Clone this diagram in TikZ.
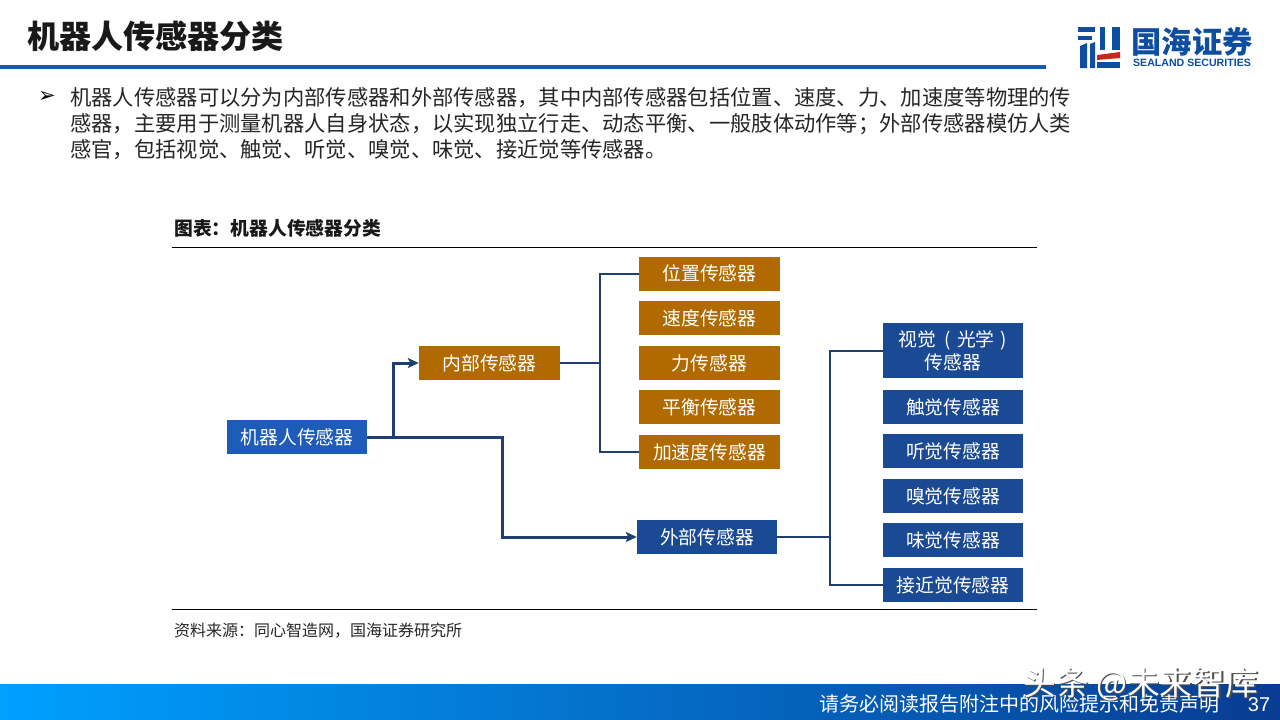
\documentclass[tikz,border=0pt]{standalone}
\usepackage{fontspec}
\setmainfont{Noto Sans CJK SC}
\newfontfamily\latinf{Liberation Sans}
\usetikzlibrary{arrows.meta}
\definecolor{brownbox}{HTML}{B06A00}
\definecolor{bluebox}{HTML}{1B4A94}
\definecolor{rootbox}{HTML}{1F5BB8}
\definecolor{conn}{HTML}{1F3F73}
\definecolor{rulec}{HTML}{0F5CB5}
\definecolor{logoblue}{HTML}{0D4EA0}
\definecolor{logored}{HTML}{C8281E}
\definecolor{footl}{HTML}{00A0FF}
\definecolor{footm}{HTML}{0062DC}
\definecolor{footr}{HTML}{083C92}
\tikzset{
  x=1pt,y=-1pt,
  box/.style={minimum width=#1,minimum height=34pt,inner sep=0pt,align=center,text=white,font=\fontsize{18.8}{23}\selectfont},
  box/.default=140pt,
  brownb/.style={box=141pt,fill=brownbox,text=white},
  blueb/.style={box=140pt,fill=bluebox},
  thick conn/.style={draw=conn,line width=3pt},
  thin conn/.style={draw=conn,line width=2pt},
  tipped/.style={-{Stealth[length=11pt,width=10pt,inset=2.5pt]}},
  body/.style={anchor=west,inner sep=0pt,text=black!85,font=\fontsize{21.3}{25}\selectfont},
  logo/.style={fill=logoblue},
}
\begin{document}
\begin{tikzpicture}
\useasboundingbox (0,0) rectangle (1280,720);
\fill[white] (0,0) rectangle (1280,720);
% header
\node[anchor=west,inner sep=0pt,font=\fontsize{32.1}{38}\selectfont\bfseries,text=black!90] (title) at (27,36) {机器人传感器分类};
\fill[rulec] (0,64.5) rectangle (1046,68.5);
% logo mark
\fill[logo] (1078,27) rectangle (1095,32);
\fill[logo] (1078,36) rectangle (1092,40);
\fill[logo] (1080,46) -- (1087,43) -- (1087,68) -- (1080,68) -- cycle;
\fill[logo] (1090,44) -- (1095,42) -- (1095,68) -- (1090,68) -- cycle;
\fill[logo] (1100,27) rectangle (1105,50);
\fill[logo] (1112,27) rectangle (1120,50);
\fill[logored] (1097,55) -- (1120,52) -- (1120,58) -- (1097,60) -- cycle;
\fill[logo] (1097,62) rectangle (1120,68);
\node[inner sep=0pt,font=\fontsize{30.3}{31}\selectfont\bfseries,text=logoblue] (logocn) at (1192,42) {国海证券};
\node[inner sep=0pt,font=\latinf\fontsize{10.6}{12}\selectfont\bfseries,text=logoblue] (logoen) at (1192,63) {SEALAND SECURITIES};
% bullet
\node[inner sep=0pt,font=\fontspec{DejaVu Sans}\fontsize{21}{21}\selectfont,text=black] (bullet) at (47,97) {➢};
\node[body] (l1) at (70,98) {机器人传感器可以分为内部传感器和外部传感器，其中内部传感器包括位置、速度、力、加速度等物理的传};
\node[body] (l2) at (70,124) {感器，主要用于测量机器人自身状态，以实现独立行走、动态平衡、一般肢体动作等；外部传感器模仿人类};
\node[body] (l3) at (70,150) {感官，包括视觉、触觉、听觉、嗅觉、味觉、接近觉等传感器。};
% figure title
\node[anchor=west,inner sep=0pt,font=\fontsize{18.8}{22}\selectfont\bfseries,text=black!90] (figt) at (174,228) {图表：机器人传感器分类};
\draw[black,line width=1pt] (172,247.5) -- (1037,247.5);
\draw[black,line width=1pt] (172,609.5) -- (1037,609.5);
\node[anchor=west,inner sep=0pt,font=\fontsize{16}{19}\selectfont,text=black!85] (src) at (174,631) {资料来源：同心智造网，国海证券研究所};
% boxes
\node[box=140pt,fill=rootbox] (root) at (297,437) {机器人传感器};
\node[brownb] (inner) at (489.5,363) {内部传感器};
\node[blueb] (outer) at (707,537) {外部传感器};
\node[brownb] (b1) at (709.5,273.5) {位置传感器};
\node[brownb] (b2) at (709.5,318) {速度传感器};
\node[brownb] (b3) at (709.5,363) {力传感器};
\node[brownb] (b4) at (709.5,407) {平衡传感器};
\node[brownb] (b5) at (709.5,452) {加速度传感器};
\node[blueb,minimum height=55pt] (r1) at (953,350.5) {视觉\hspace{4pt} (\hspace{6pt}光学\hspace{6pt})\\传感器};
\node[blueb] (r2) at (953,407) {触觉传感器};
\node[blueb] (r3) at (953,451) {听觉传感器};
\node[blueb] (r4) at (953,496) {嗅觉传感器};
\node[blueb] (r5) at (953,540) {味觉传感器};
\node[blueb] (r6) at (953,585) {接近觉传感器};
% connectors
\coordinate (j1) at (393,437);
\draw[thick conn,tipped] (root.east) -- (j1) |- (inner.west);
\draw[thick conn,tipped] (root.east) -- (502,437) |- (outer.west);
\coordinate (j2) at (600,363);
\draw[thin conn] (inner.east) -- (j2);
\draw[thin conn] (b1.west) -| (j2);
\draw[thin conn] (b5.west) -| (j2);
\coordinate (j3) at (830,537);
\draw[thin conn] (outer.east) -- (j3);
\draw[thin conn] (r1.west) -| (j3);
\draw[thin conn] (r6.west) -| (j3);
% footer
\shade[left color=footl,middle color=footm,right color=footr] (0,684) rectangle (1280,720);
\node[anchor=west,inner sep=0pt,text=white,font=\fontsize{20}{22}\selectfont] (foot) at (819,704) {请务必阅读报告附注中的风险提示和免责声明};
\node[inner sep=0pt,text=white,font=\latinf\fontsize{20}{20}\selectfont] (page) at (1259,705) {37};
% watermark
\node[anchor=west,inner sep=0pt,text=black!70,font=\fontsize{32.8}{34}\selectfont] (wms) at (1024.5,686) {头条 @未来智库};
\node[anchor=west,inner sep=0pt,text=white,font=\fontsize{32.8}{34}\selectfont] (wm) at (1023,684.5) {头条 @未来智库};
\end{tikzpicture}
\end{document}
